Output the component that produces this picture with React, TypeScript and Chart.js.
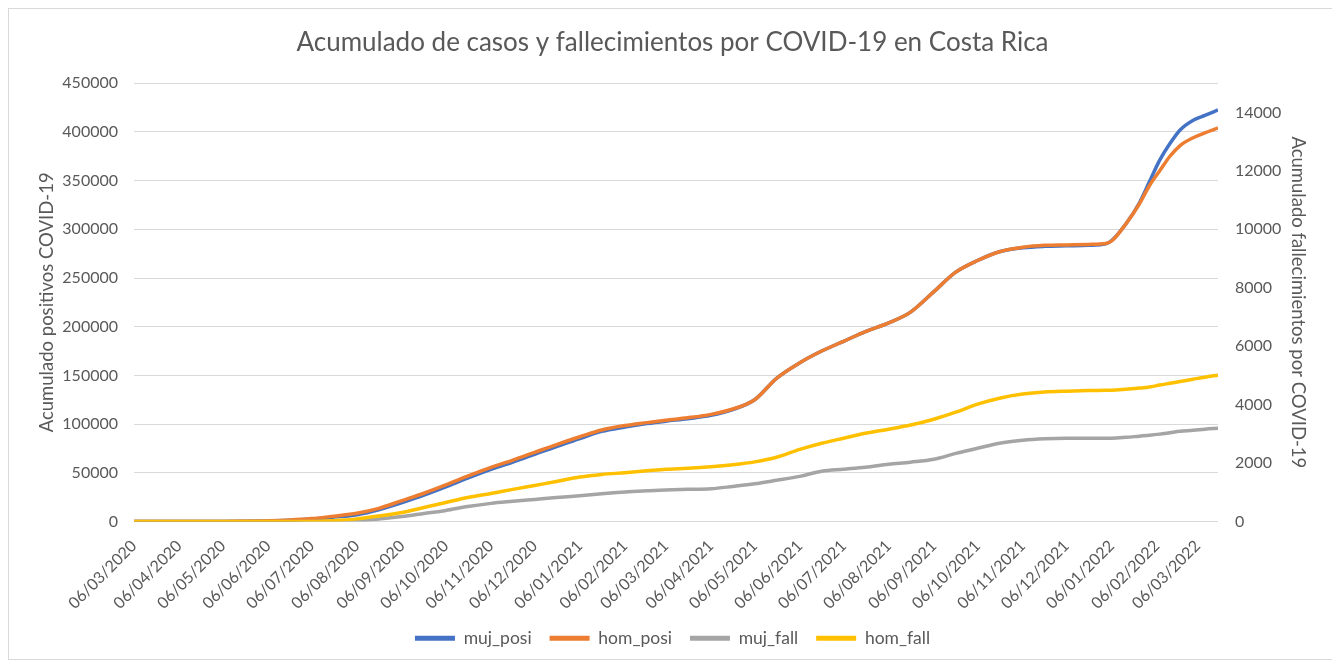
import React, { useEffect, useRef } from 'react';
import { Chart, registerables } from 'chart.js';

Chart.register(...registerables);

const dates = [
  '06/03/2020', '06/04/2020', '06/05/2020', '06/06/2020', '21/06/2020', '06/07/2020', '21/07/2020',
  '06/08/2020', '21/08/2020', '06/09/2020', '21/09/2020', '06/10/2020', '21/10/2020', '06/11/2020',
  '21/11/2020', '06/12/2020', '21/12/2020', '06/01/2021', '21/01/2021', '06/02/2021', '21/02/2021',
  '06/03/2021', '21/03/2021', '06/04/2021', '21/04/2021', '06/05/2021', '21/05/2021', '06/06/2021',
  '21/06/2021', '06/07/2021', '21/07/2021', '06/08/2021', '21/08/2021', '06/09/2021', '21/09/2021',
  '06/10/2021', '21/10/2021', '06/11/2021', '21/11/2021', '06/12/2021', '21/12/2021', '02/01/2022',
  '06/01/2022', '16/01/2022', '25/01/2022', '01/02/2022', '08/02/2022', '15/02/2022', '22/02/2022',
  '03/03/2022', '11/03/2022', '20/03/2022',
];

const mujPosi = [
  0, 0, 80, 600, 1200, 2500, 4500, 7000, 12000, 19500, 27000, 35500, 44500, 53500, 61000, 69000, 77000,
  85000, 92500, 97000, 100500, 103000, 105500, 109000, 115000, 125000, 147000, 163000, 175000, 185000,
  195000, 204000, 215000, 236000, 256000, 268000, 277000, 281000, 282500, 283000, 283500, 285000, 288500,
  306000, 327000, 349000, 371000, 388000, 402000, 412000, 417000, 422500,
];

const homPosi = [
  0, 0, 100, 700, 1500, 3000, 5500, 8500, 13500, 21500, 29000, 37500, 46500, 55500, 63000, 71000, 79000,
  87000, 94000, 98500, 101500, 104000, 106500, 110000, 115500, 125000, 147000, 163000, 175000, 185000,
  195000, 204000, 215000, 236000, 256000, 268000, 277000, 281500, 283500, 284000, 284500, 285500, 288000,
  306000, 326000, 345000, 360000, 375000, 386000, 394000, 399000, 404000,
];

const mujFall = [
  0, 0, 0, 0, 0, 0, 10, 30, 85, 170, 275, 380, 510, 620, 690, 755, 820, 880, 950, 1010, 1050, 1080, 1100,
  1120, 1200, 1290, 1410, 1545, 1720, 1790, 1860, 1960, 2030, 2130, 2330, 2505, 2680, 2780, 2830, 2850,
  2850, 2850, 2850, 2880, 2920, 2950, 2990, 3040, 3090, 3120, 3160, 3190,
];

const homFall = [
  0, 0, 0, 0, 0, 0, 30, 90, 190, 310, 480, 650, 820, 960, 1100, 1235, 1370, 1520, 1610, 1670, 1735, 1790,
  1820, 1870, 1940, 2040, 2200, 2470, 2680, 2850, 3020, 3160, 3300, 3500, 3740, 4015, 4220, 4360, 4430,
  4460, 4480, 4490, 4495, 4530, 4565, 4600, 4670, 4730, 4790, 4870, 4940, 5010,
];

const tickLabels = [
  '06/03/2020', '06/04/2020', '06/05/2020', '06/06/2020', '06/07/2020', '06/08/2020', '06/09/2020',
  '06/10/2020', '06/11/2020', '06/12/2020', '06/01/2021', '06/02/2021', '06/03/2021', '06/04/2021',
  '06/05/2021', '06/06/2021', '06/07/2021', '06/08/2021', '06/09/2021', '06/10/2021', '06/11/2021',
  '06/12/2021', '06/01/2022', '06/02/2022', '06/03/2022',
];

const leftTickValues = [0, 50000, 100000, 150000, 200000, 250000, 300000, 350000, 400000, 450000];
const rightTickValues = [0, 2000, 4000, 6000, 8000, 10000, 12000, 14000];
const leftMax = 450000;
const rightMax = 15000;
const xEnd = '20/03/2022';

const toUTC = (s: string) => {
  const [d, m, y] = s.split('/').map(Number);
  return Date.UTC(y, m - 1, d);
};
const base = toUTC(dates[0]);
const dayOf = (s: string) => Math.round((toUTC(s) - base) / 86400000);

const FONT = 'Lato';
const TEXT = '#595959';

export default function App() {
  const ref = useRef<HTMLCanvasElement | null>(null);

  useEffect(() => {
    if (!ref.current) return;
    const xs = dates.map(dayOf);
    const mk = (vals: number[]) => vals.map((v, i) => ({ x: xs[i], y: v }));
    const defaultGen = (Chart.defaults as any).plugins.legend.labels.generateLabels;

    const chart = new Chart(ref.current, {
      type: 'line',
      data: {
        datasets: [
          { label: 'muj_posi', data: mk(mujPosi), borderColor: '#4472C4', backgroundColor: '#4472C4', yAxisID: 'y', order: 4 },
          { label: 'hom_posi', data: mk(homPosi), borderColor: '#ED7D31', backgroundColor: '#ED7D31', yAxisID: 'y', order: 3 },
          { label: 'muj_fall', data: mk(mujFall), borderColor: '#A5A5A5', backgroundColor: '#A5A5A5', yAxisID: 'y1', order: 2 },
          { label: 'hom_fall', data: mk(homFall), borderColor: '#FFC000', backgroundColor: '#FFC000', yAxisID: 'y1', order: 1 },
        ] as any,
      },
      options: {
        responsive: false,
        animation: false,
        layout: { padding: { top: 10, left: 20, right: 20, bottom: 2 } },
        elements: {
          line: { borderWidth: 3.5, cubicInterpolationMode: 'monotone' },
          point: { radius: 0, hoverRadius: 0 },
        },
        plugins: {
          tooltip: { enabled: false },
          title: {
            display: true,
            text: 'Acumulado de casos y fallecimientos por COVID-19 en Costa Rica',
            color: TEXT,
            font: { family: FONT, size: 26, weight: 'normal' },
            padding: { top: 8, bottom: 25 },
          },
          legend: {
            position: 'bottom',
            labels: {
              boxWidth: 40,
              boxHeight: 5,
              padding: 18,
              color: TEXT,
              font: { family: FONT, size: 17.5 },
              sort: (a: any, b: any) => a.datasetIndex - b.datasetIndex,
              generateLabels: (c: any) => defaultGen(c).map((l: any) => ({ ...l, lineWidth: 0 })),
            },
          },
        },
        scales: {
          x: {
            type: 'linear',
            min: 0,
            max: dayOf(xEnd),
            grid: { display: false },
            border: { display: false },
            afterBuildTicks: (scale: any) => {
              scale.ticks = tickLabels.map((l) => ({ value: dayOf(l) }));
            },
            afterFit: (scale: any) => {
              scale.height = 90;
            },
            ticks: {
              autoSkip: false,
              maxRotation: 45,
              minRotation: 45,
              padding: 7,
              color: TEXT,
              font: { family: FONT, size: 16 },
              callback: (_v: any, i: number) => tickLabels[i],
            },
          },
          y: {
            position: 'left',
            min: 0,
            max: leftMax,
            grid: { color: '#d9d9d9', lineWidth: 1, drawTicks: false },
            border: { display: false },
            afterBuildTicks: (scale: any) => {
              scale.ticks = leftTickValues.map((v) => ({ value: v }));
            },
            afterFit: (scale: any) => {
              scale.width = 105;
            },
            ticks: {
              padding: 16,
              color: TEXT,
              font: { family: FONT, size: 16 },
              callback: (v: any) => String(v),
            },
            title: {
              display: true,
              text: 'Acumulado positivos COVID-19',
              color: TEXT,
              font: { family: FONT, size: 18.5 },
              padding: { top: 7, bottom: 0 },
            },
          },
          y1: {
            position: 'right',
            min: 0,
            max: rightMax,
            grid: { display: false, drawTicks: false },
            border: { display: false },
            afterBuildTicks: (scale: any) => {
              scale.ticks = rightTickValues.map((v) => ({ value: v }));
            },
            afterFit: (scale: any) => {
              scale.width = 98;
            },
            ticks: {
              padding: 17,
              color: TEXT,
              font: { family: FONT, size: 16 },
              callback: (v: any) => String(v),
            },
            title: {
              display: true,
              text: 'Acumulado fallecimientos por COVID-19',
              color: TEXT,
              font: { family: FONT, size: 18.5 },
              padding: { top: 7, bottom: 0 },
            },
          },
        },
      } as any,
    });
    return () => chart.destroy();
  }, []);

  return (
    <div
      style={{
        width: 1329,
        height: 652,
        border: '1px solid #d9d9d9',
        boxSizing: 'border-box',
        background: '#fff',
      }}
    >
      <canvas ref={ref} width={1327} height={650} style={{ display: 'block' }} />
    </div>
  );
}
